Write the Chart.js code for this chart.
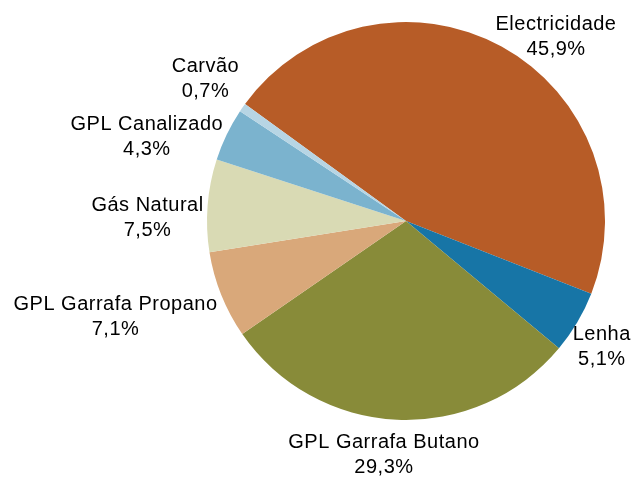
<!DOCTYPE html>
<html>
<head>
<meta charset="utf-8">
<script src="https://cdn.jsdelivr.net/npm/chart.js@4/dist/chart.umd.min.js"></script>
<style>
  html, body { margin: 0; padding: 0; background: #fff; }
  #wrap { width: 635px; height: 478px; position: relative; }
</style>
</head>
<body>
<div id="wrap"><canvas id="myChart"></canvas></div>
<script>
// data
var labels = ["Electricidade", "Lenha", "GPL Garrafa Butano", "GPL Garrafa Propano", "Gás Natural", "GPL Canalizado", "Carvão"];
var shares = [45.9, 5.1, 29.3, 7.1, 7.5, 4.3, 0.7];
var shareText = ["45,9%", "5,1%", "29,3%", "7,1%", "7,5%", "4,3%", "0,7%"];
var colors = ["#B75C27", "#1775A6", "#888B39", "#D9A87A", "#D9DAB4", "#7BB3CE", "#B7D5E4"];

// labels outside the pie, two lines each, pushed apart if they collide
var outsideLabels = {
  id: 'outsideLabels',
  afterDatasetsDraw: function (chart) {
    var ctx = chart.ctx;
    var arcs = chart.getDatasetMeta(0).data;
    var lineH = 25;
    var boxH = lineH * 2;
    var placed = [];
    ctx.save();
    ctx.font = '20px "Liberation Sans", Arial, sans-serif';
    if ('letterSpacing' in ctx) ctx.letterSpacing = '0.5px';
    ctx.fillStyle = '#000';
    ctx.textAlign = 'center';
    ctx.textBaseline = 'middle';

    arcs.forEach(function (arc, i) {
      var p = arc.getProps(['x', 'y', 'startAngle', 'endAngle', 'outerRadius'], true);
      var mid = (p.startAngle + p.endAngle) / 2;
      var dx = Math.cos(mid), dy = Math.sin(mid);
      var px = p.x + (p.outerRadius + 4) * dx;
      var py = p.y + (p.outerRadius + 4) * dy;
      var lines = [labels[i], shareText[i]];
      var w = Math.max.apply(null, lines.map(function (t) { return ctx.measureText(t).width; }));

      var left;
      if (dx > 0.3) left = px - 8;
      else if (dx < -0.3) left = px - w;
      else left = px + dx * w * 1.5 - w / 2;
      var cy = py + dy * 20 + 11 + (1 - Math.abs(dy)) * 4;

      var box = { l: left, r: left + w, t: cy - boxH / 2, b: cy + boxH / 2 };
      placed.forEach(function (o) {
        if (box.l < o.r && box.r > o.l && box.t < o.b + 8 && box.b > o.t - 8) {
          var shift = dy < 0 ? (o.t - 8) - box.b : (o.b + 8) - box.t;
          box.t += shift; box.b += shift;
        }
      });
      placed.push(box);

      var cx = (box.l + box.r) / 2;
      var top = box.t;
      lines.forEach(function (t, k) {
        ctx.fillText(t, cx, top + lineH / 2 + k * lineH);
      });
    });
    ctx.restore();
  }
};

var myChart = new Chart(document.getElementById('myChart'), {
  type: 'pie',
  data: {
    labels: labels,
    datasets: [{
      data: shares,
      backgroundColor: colors,
      borderWidth: 0
    }]
  },
  options: {
    responsive: true,
    maintainAspectRatio: false,
    animation: false,
    rotation: -54,
    layout: { padding: { top: 22, bottom: 58, left: 207, right: 30 } },
    plugins: {
      legend: { display: false },
      tooltip: { enabled: false }
    }
  },
  plugins: [outsideLabels]
});
</script>
</body>
</html>
